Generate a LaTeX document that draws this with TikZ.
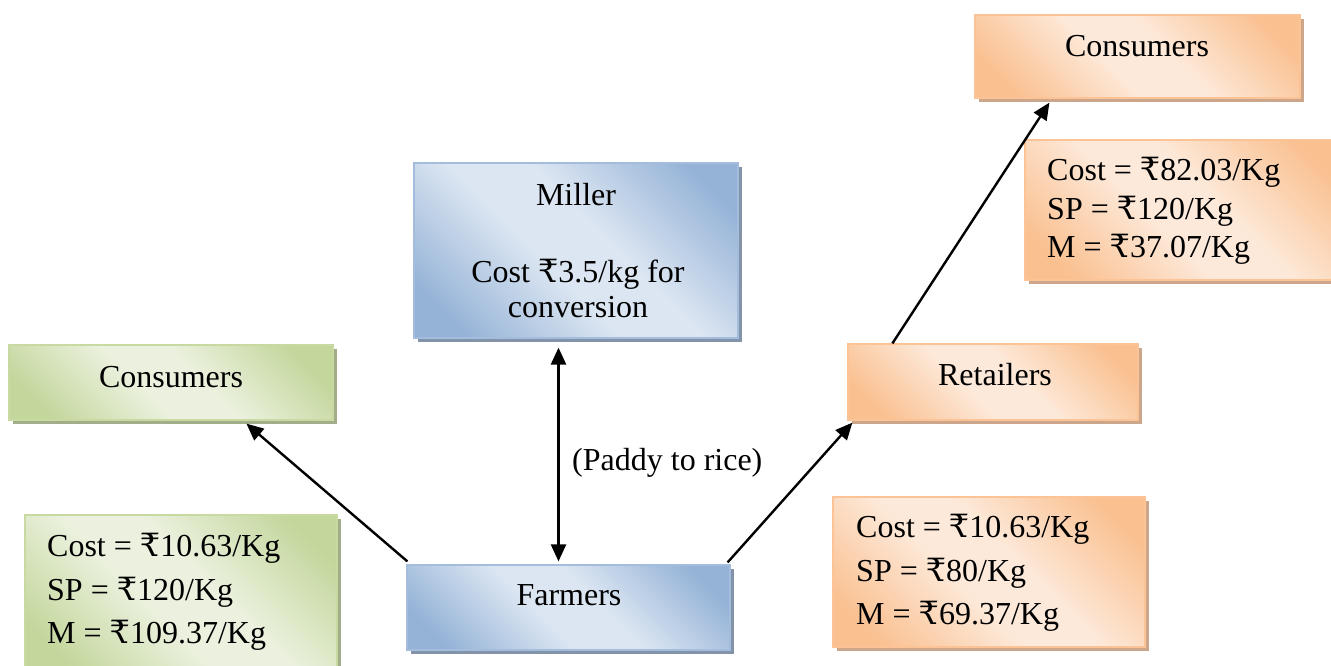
\documentclass[tikz,border=0pt]{standalone}
\usepackage{fontspec}
\setmainfont{Liberation Serif}
\newfontfamily\rupeefallback{DejaVu Serif}
\usetikzlibrary{arrows.meta,shadows,calc}

% Rupee sign, taken from the main font when it has one
\newcommand\rs{\iffontchar\font"20B9 \symbol{"20B9}\else{\rupeefallback\symbol{"20B9}}\fi}

\definecolor{bluedark}{HTML}{95B3D7}
\definecolor{bluelight}{HTML}{DCE6F2}
\definecolor{blueline}{HTML}{A4BDDC}
\definecolor{blueshadow}{HTML}{8393AA}
\definecolor{greendark}{HTML}{C3D69B}
\definecolor{greenlight}{HTML}{EBF1DE}
\definecolor{greenline}{HTML}{C8DAA2}
\definecolor{greenshadow}{HTML}{A2AE8A}
\definecolor{orangedark}{HTML}{FAC090}
\definecolor{orangelight}{HTML}{FDE9D9}
\definecolor{orangeline}{HTML}{FBC396}
\definecolor{orangeshadow}{HTML}{CBA68A}

% soft diagonal band: light through the middle, deeper towards two corners
\pgfdeclarehorizontalshading{blueshade}{100bp}{color(0bp)=(bluedark); color(22bp)=(bluedark); color(44bp)=(bluelight); color(56bp)=(bluelight); color(78bp)=(bluedark); color(100bp)=(bluedark)}
\pgfdeclarehorizontalshading{greenshade}{100bp}{color(0bp)=(greendark); color(22bp)=(greendark); color(44bp)=(greenlight); color(56bp)=(greenlight); color(78bp)=(greendark); color(100bp)=(greendark)}
\pgfdeclarehorizontalshading{orangeshade}{100bp}{color(0bp)=(orangedark); color(22bp)=(orangedark); color(44bp)=(orangelight); color(56bp)=(orangelight); color(78bp)=(orangedark); color(100bp)=(orangedark)}

\tikzset{
  box/.style={rectangle, inner sep=0pt, line width=1.2pt, shading angle=45},
  bluebox/.style={box, draw=blueline, shading=blueshade,
    general shadow={fill=blueshadow, shadow xshift=4pt, shadow yshift=-4pt}},
  greenbox/.style={box, draw=greenline, shading=greenshade,
    general shadow={fill=greenshadow, shadow xshift=4pt, shadow yshift=-4pt}},
  orangebox/.style={box, draw=orangeline, shading=orangeshade,
    general shadow={fill=orangeshadow, shadow xshift=4pt, shadow yshift=-4pt}},
  lbl/.style={inner sep=0pt, font=\fontsize{32}{38}\selectfont},
  infotext/.style={inner sep=0pt, align=left, anchor=north west},
  flow/.style={line width=2.4pt, -{Triangle[length=17pt,width=15pt]}},
  twoway/.style={line width=2.4pt, {Triangle[length=17pt,width=15pt]}-{Triangle[length=17pt,width=15pt]}},
}

\begin{document}
\begin{tikzpicture}[x=1pt, y=-1pt]
\useasboundingbox[fill=white] (0,0) rectangle (1331,666);

% boxes
\node[bluebox, minimum width=324pt, minimum height=175pt] (miller) at (576,250.5) {};
\node[greenbox, minimum width=324pt, minimum height=75pt] (gcons) at (171,382.5) {};
\node[greenbox, minimum width=312pt, minimum height=160pt] (ginfo) at (181,595) {};
\node[bluebox, minimum width=323pt, minimum height=85pt] (farmers) at (568.5,607.5) {};
\node[orangebox, minimum width=290pt, minimum height=76pt] (retail) at (993,382) {};
\node[orangebox, minimum width=312pt, minimum height=150pt] (oinfo) at (989,572) {};
\node[orangebox, minimum width=325pt, minimum height=83pt] (ocons) at (1137.5,56.5) {};
\node[orangebox, minimum width=320pt, minimum height=140pt] (otinfo) at (1185,210) {};

% texts
\node[lbl, anchor=base] at (576,205) {Miller};
\node[lbl, anchor=base, align=center] (millertext) at (578,317)
  {Cost \rs3.5/kg for\\[-3pt] conversion};
\node[lbl, anchor=base] at (171,387) {Consumers};
\node[lbl, anchor=base] at (569,605) {Farmers};
\node[lbl, anchor=base] at (995,385) {Retailers};
\node[lbl, anchor=base] at (1137,57) {Consumers};
\node[lbl, anchor=base west] (paddy) at (572,470) {(Paddy to rice)};

\node[lbl, infotext, font=\fontsize{32}{43.5}\selectfont] at (47,533)
  {Cost = \rs10.63/Kg\\ SP = \rs120/Kg\\ M = \rs109.37/Kg};
\node[lbl, infotext, font=\fontsize{32}{43.5}\selectfont] at (856,514)
  {Cost = \rs10.63/Kg\\ SP = \rs80/Kg\\ M = \rs69.37/Kg};
\node[lbl, infotext, font=\fontsize{32}{38.5}\selectfont] at (1047,157)
  {Cost = \rs82.03/Kg\\ SP = \rs120/Kg\\ M = \rs37.07/Kg};

% connectors
\draw[flow] ([xshift=1pt,yshift=3pt]farmers.north west) -- ([xshift=238pt,yshift=-3pt]gcons.south west);
\draw[flow] ([xshift=-3pt,yshift=2pt]farmers.north east) -- ([xshift=5pt,yshift=-2pt]retail.south west);
\draw[flow] ([xshift=45pt]retail.north west) -- ([xshift=75pt,yshift=-4pt]ocons.south west);
\draw[twoway] ([xshift=-17.5pt,yshift=-9pt]miller.south) -- ([xshift=-10pt,yshift=3pt]farmers.north);
\end{tikzpicture}
\end{document}
